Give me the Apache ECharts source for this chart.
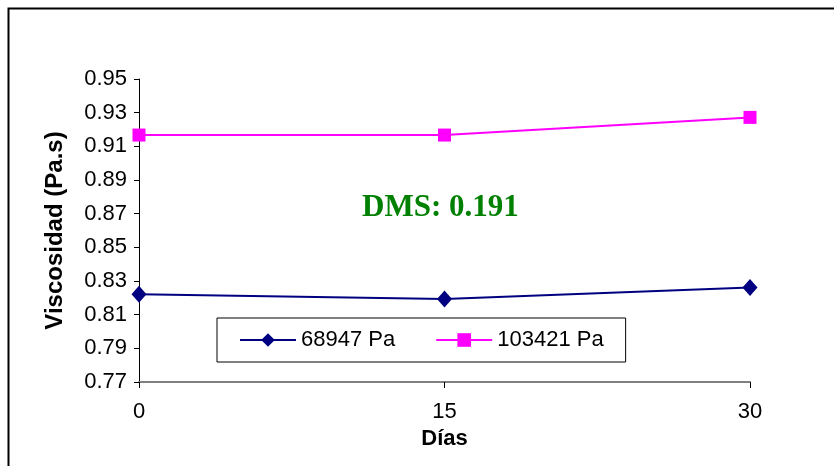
<!DOCTYPE html>
<html>
<head>
<meta charset="utf-8">
<script src="https://cdn.jsdelivr.net/npm/echarts@6/dist/echarts.min.js"></script>
<style>html,body{margin:0;padding:0;background:#fff;}#c{width:834px;height:466px;}</style>
</head>
<body>
<div id="c"></div>
<script>
var days = [0, 15, 30];
var serieA = [0.8221, 0.8193, 0.8262];
var serieB = [0.9167, 0.9167, 0.9272];
var seriesNames = ['68947 Pa', '103421 Pa'];
var yTicks = {min: 0.77, max: 0.95, interval: 0.02};
var xTicks = {min: 0, max: 30, interval: 15};
var note = 'DMS: 0.191';

var chart = echarts.init(document.getElementById('c'));
function pairs(xs, ys){ return xs.map(function(x,i){ return [x, ys[i]]; }); }
chart.setOption({
  animation: false,
  backgroundColor: '#fff',
  grid: {left: 139, right: 84, top: 79, bottom: 84},
  xAxis: {
    type: 'value', min: xTicks.min, max: xTicks.max, interval: xTicks.interval,
    name: 'Días', nameLocation: 'middle', nameGap: 45,
    nameTextStyle: {fontFamily: 'Liberation Sans, Arial', fontWeight: 'bold', fontSize: 22, color: '#000'},
    axisLine: {lineStyle: {color: '#808080', width: 2}},
    axisTick: {show: true, length: 6, lineStyle: {color: '#000', width: 1}},
    axisLabel: {fontFamily: 'Liberation Sans, Arial', fontSize: 22, color: '#000', margin: 19},
    splitLine: {show: false}
  },
  yAxis: {
    type: 'value', min: yTicks.min, max: yTicks.max, interval: yTicks.interval,
    name: 'Viscosidad (Pa.s)', nameLocation: 'middle', nameGap: 72, nameRotate: 90,
    nameTextStyle: {fontFamily: 'Liberation Sans, Arial', fontWeight: 'bold', fontSize: 24, color: '#000'},
    axisLine: {show: true, lineStyle: {color: '#000', width: 1}},
    axisTick: {show: true, length: 5, lineStyle: {color: '#000', width: 1}},
    axisLabel: {fontFamily: 'Liberation Sans, Arial', fontSize: 22, color: '#000', margin: 12,
      formatter: function(v){ return v.toFixed(2); }},
    splitLine: {show: false}
  },
  legend: {
    left: 217, top: 318, width: 405,
    padding: [11, 22, 11, 22],
    itemGap: 40, itemWidth: 56, itemHeight: 17,
    borderColor: '#000', borderWidth: 1,
    textStyle: {fontFamily: 'Liberation Sans, Arial', fontSize: 22, color: '#000'},
    data: seriesNames
  },
  series: [
    {name: seriesNames[0], type: 'line', data: pairs(days, serieA),
     symbol: 'diamond', symbolSize: [15, 17],
     lineStyle: {color: '#000080', width: 2}, itemStyle: {color: '#000080'}},
    {name: seriesNames[1], type: 'line', data: pairs(days, serieB),
     symbol: 'rect', symbolSize: 13,
     lineStyle: {color: '#FF00FF', width: 2}, itemStyle: {color: '#FF00FF'}}
  ],
  graphic: [
    {type: 'rect', left: 6, top: 6, shape: {width: 850, height: 480},
     style: {fill: 'none', stroke: '#000', lineWidth: 2}, silent: true},
    {type: 'text', left: 362, top: 192,
     style: {text: note, fontFamily: 'Liberation Serif, Times New Roman', fontWeight: 'bold', fontSize: 31, fill: '#008000'}}
  ]
});
</script>
</body>
</html>
